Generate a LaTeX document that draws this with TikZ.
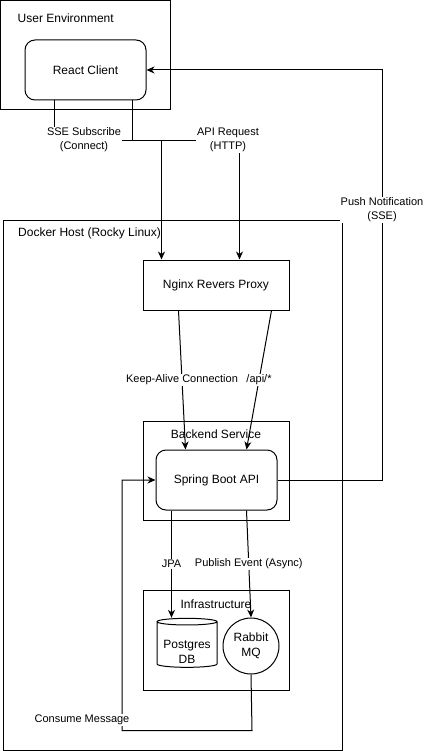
\documentclass[tikz,border=0pt]{standalone}
\usepackage{fontspec}
\setmainfont{Liberation Sans}
\usetikzlibrary{positioning, arrows.meta, shapes}
\tikzset{Box/.style={draw, line width=1pt, align=center, font=\fontsize{12}{15}\selectfont}}
\tikzset{RBox/.style={Box, rounded corners=10pt}}
\tikzset{E/.style={draw, line width=1pt, -{Stealth[length=8pt, width=7pt, inset=2.5pt]}}}
\tikzset{L/.style={fill=white, inner sep=1pt, align=center, font=\fontsize{11}{14}\selectfont}}
\tikzset{T/.style={inner sep=0pt, font=\fontsize{12}{15}\selectfont}}

\begin{document}
\begin{tikzpicture}[x=1pt, y=-1pt]
    \useasboundingbox (0,0) rectangle (424,751);

    %% Containers
    \node (user) [Box, minimum width=169.5pt, minimum height=109.5pt] at (85.25,55.25) {};
    \node (usert) [T, anchor=west] at (17.5,18) {User Environment};

    \node (docker) [Box, minimum width=339pt, minimum height=530pt] at (172.5,485) {};
    \node (dockert) [T, anchor=west] at (18,233) {Docker Host (Rocky Linux)};

    \node (backend) [Box, minimum width=146pt, minimum height=99pt] at (216,470.5) {};
    \node (backendt) [T] at (216,434) {Backend Service};

    \node (infra) [Box, minimum width=146pt, minimum height=100pt] at (216,640) {};
    \node (infrat) [T] at (216,604) {Infrastructure};

    %% Components
    \node (client) [RBox, minimum width=121pt, minimum height=60pt] at (85.5,70) {React Client};
    \node (nginx) [Box, minimum width=146pt, minimum height=50pt] at (216,285) {Nginx Revers Proxy};
    \node (spring) [RBox, minimum width=121pt, minimum height=60pt] at (216.5,480) {Spring Boot API};
    \node (postgres) [Box, cylinder, shape border rotate=90, aspect=1,
        minimum width=60pt, minimum height=49pt,
        label={[T, align=center, yshift=-6pt]center:Postgres\\DB}] at (187,645.5) {};
    \node (rabbit) [Box, circle, inner sep=0pt, minimum size=56pt] at (251,646) {Rabbit\\MQ};

    %% Client to proxy
    \draw [E] ([xshift=30pt]client.south west) -- ++(0,40) -| ([xshift=19pt]nginx.north west);
    \draw [E] ([xshift=108pt]client.south west) -- ++(0,40) -| ([xshift=97pt]nginx.north west);
    \node (sse) [L] at (84,140) {SSE Subscribe\\(Connect)};
    \node (api) [L] at (228,140) {API Request\\(HTTP)};

    %% Proxy to backend
    \draw [E] ([xshift=36pt]nginx.south west) -- ([xshift=30pt]spring.north west)
        node[L, midway] {Keep-Alive Connection};
    \draw [E] ([xshift=129pt]nginx.south west) -- ([xshift=91pt]spring.north west)
        node[L, midway] {/api/*};

    %% Push back to client
    \draw [E] (spring.east) -- ++(105,0) |- (client.east);
    \node (push) [L] at (382,210) {Push Notification\\(SSE)};

    %% Backend to infrastructure
    \draw [E] ([xshift=16pt]spring.south west) -- ([xshift=16pt]spring.south west |- postgres.north)
        node[L, midway] {JPA};
    \draw [E] ([xshift=91pt]spring.south west) -- (rabbit.north)
        node[L, midway] {Publish Event (Async)};
    \draw [E] (rabbit.south) -- ++(1,56) -- ++(-130,0) |- (spring.west);
    \node (consume) [L] at (82,720) {Consume Message};

\end{tikzpicture}
\end{document}
